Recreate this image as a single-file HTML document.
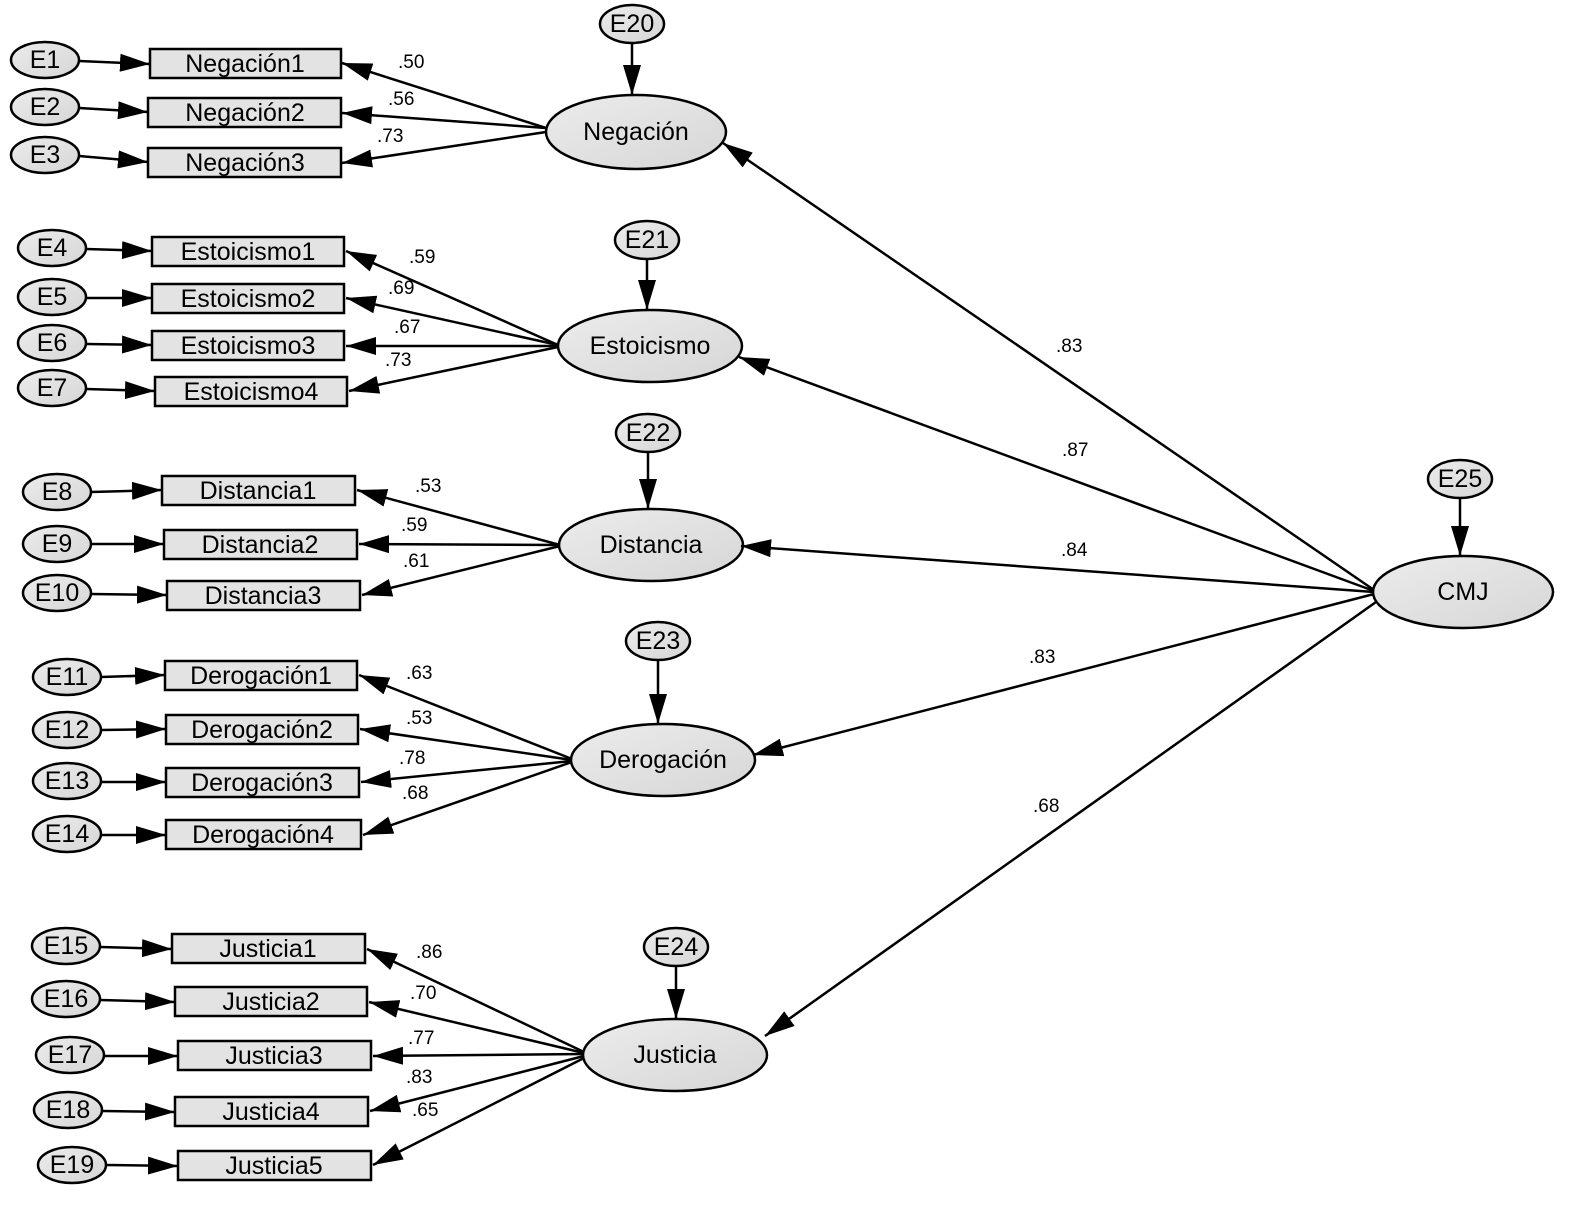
<!DOCTYPE html>
<html><head><meta charset="utf-8"><style>
body{margin:0;background:#fff}
svg{display:block}
text{font-family:"Liberation Sans Narrow","Liberation Sans",sans-serif;fill:#000}
.n{font-size:25px;text-anchor:middle;dominant-baseline:central}
.l{font-size:19px;font-family:"Liberation Sans",sans-serif}
ellipse,rect{stroke:#000;stroke-width:2.5}
ellipse{fill:url(#g)}
rect{fill:#e3e3e3}
line{stroke:#000;stroke-width:2.5;marker-end:url(#a)}
</style></head><body>
<svg width="1591" height="1229" viewBox="0 0 1591 1229" xmlns="http://www.w3.org/2000/svg">
<defs>
<linearGradient id="g" x1="0" y1="0" x2="1" y2="1"><stop offset="0" stop-color="#ececec"/><stop offset="1" stop-color="#d6d6d6"/></linearGradient>
<marker id="a" markerWidth="30" markerHeight="18" refX="30" refY="9" orient="auto" markerUnits="userSpaceOnUse"><path d="M0,0 L30,9 L0,18 z" fill="#000"/></marker>
</defs>

<!-- Negación -->
<ellipse cx="45" cy="60" rx="34" ry="18"/><text class="n" x="45" y="60">E1</text>
<ellipse cx="45" cy="107" rx="34" ry="18"/><text class="n" x="45" y="107">E2</text>
<ellipse cx="45" cy="155" rx="34" ry="18"/><text class="n" x="45" y="155">E3</text>
<line x1="79" y1="61" x2="150" y2="64"/><line x1="79" y1="108" x2="148" y2="112"/><line x1="79" y1="156" x2="148" y2="162"/>
<rect x="150" y="49" width="191" height="29"/><text class="n" x="245" y="64">Negación1</text>
<rect x="148" y="98" width="193" height="29"/><text class="n" x="245" y="113">Negación2</text>
<rect x="148" y="148" width="193" height="29"/><text class="n" x="245" y="163">Negación3</text>
<ellipse cx="636" cy="132" rx="90" ry="37"/><text class="n" x="636" y="132">Negación</text>
<ellipse cx="632" cy="24" rx="32" ry="19"/><text class="n" x="632" y="24">E20</text>
<line x1="632" y1="43" x2="632" y2="95"/>
<line x1="546" y1="128" x2="342" y2="63"/><line x1="546" y1="128" x2="342" y2="113"/><line x1="546" y1="132" x2="342" y2="163"/>
<text class="l" x="398" y="68">.50</text><text class="l" x="388" y="105">.56</text><text class="l" x="377" y="142">.73</text>

<!-- Estoicismo -->
<ellipse cx="52" cy="248" rx="34" ry="18"/><text class="n" x="52" y="248">E4</text>
<ellipse cx="52" cy="297" rx="34" ry="18"/><text class="n" x="52" y="297">E5</text>
<ellipse cx="52" cy="343" rx="34" ry="18"/><text class="n" x="52" y="343">E6</text>
<ellipse cx="52" cy="388" rx="34" ry="18"/><text class="n" x="52" y="388">E7</text>
<line x1="86" y1="249" x2="152" y2="251"/><line x1="86" y1="298" x2="152" y2="298"/><line x1="86" y1="344" x2="152" y2="345"/><line x1="86" y1="389" x2="155" y2="391"/>
<rect x="152" y="237" width="192" height="29"/><text class="n" x="248" y="252">Estoicismo1</text>
<rect x="152" y="284" width="192" height="29"/><text class="n" x="248" y="299">Estoicismo2</text>
<rect x="152" y="331" width="192" height="29"/><text class="n" x="248" y="346">Estoicismo3</text>
<rect x="155" y="377" width="192" height="29"/><text class="n" x="251" y="392">Estoicismo4</text>
<ellipse cx="650" cy="346" rx="92" ry="36"/><text class="n" x="650" y="346">Estoicismo</text>
<ellipse cx="647" cy="240" rx="32" ry="19"/><text class="n" x="647" y="240">E21</text>
<line x1="647" y1="259" x2="647" y2="310"/>
<line x1="558" y1="345" x2="346" y2="251"/><line x1="558" y1="345" x2="346" y2="298"/><line x1="558" y1="346" x2="346" y2="346"/><line x1="558" y1="347" x2="349" y2="391"/>
<text class="l" x="409" y="263">.59</text><text class="l" x="388" y="294">.69</text><text class="l" x="394" y="333">.67</text><text class="l" x="385" y="366">.73</text>

<!-- Distancia -->
<ellipse cx="57" cy="492" rx="34" ry="18"/><text class="n" x="57" y="492">E8</text>
<ellipse cx="57" cy="544" rx="34" ry="18"/><text class="n" x="57" y="544">E9</text>
<ellipse cx="57" cy="593" rx="34" ry="18"/><text class="n" x="57" y="593">E10</text>
<line x1="91" y1="492" x2="162" y2="490"/><line x1="91" y1="544" x2="164" y2="544"/><line x1="91" y1="594" x2="167" y2="595"/>
<rect x="162" y="476" width="193" height="29"/><text class="n" x="258" y="491">Distancia1</text>
<rect x="164" y="530" width="193" height="29"/><text class="n" x="260" y="545">Distancia2</text>
<rect x="167" y="581" width="193" height="29"/><text class="n" x="263" y="596">Distancia3</text>
<ellipse cx="651" cy="545" rx="92" ry="36"/><text class="n" x="651" y="545">Distancia</text>
<ellipse cx="648" cy="433" rx="32" ry="19"/><text class="n" x="648" y="433">E22</text>
<line x1="648" y1="452" x2="648" y2="509"/>
<line x1="560" y1="545" x2="357" y2="490"/><line x1="560" y1="545" x2="359" y2="544"/><line x1="560" y1="546" x2="362" y2="595"/>
<text class="l" x="415" y="492">.53</text><text class="l" x="401" y="531">.59</text><text class="l" x="403" y="567">.61</text>

<!-- Derogación -->
<ellipse cx="67" cy="677" rx="34" ry="18"/><text class="n" x="67" y="677">E11</text>
<ellipse cx="67" cy="730" rx="34" ry="18"/><text class="n" x="67" y="730">E12</text>
<ellipse cx="67" cy="781" rx="34" ry="18"/><text class="n" x="67" y="781">E13</text>
<ellipse cx="67" cy="834" rx="34" ry="18"/><text class="n" x="67" y="834">E14</text>
<line x1="101" y1="677" x2="165" y2="675"/><line x1="101" y1="730" x2="166" y2="729"/><line x1="101" y1="782" x2="166" y2="782"/><line x1="101" y1="835" x2="166" y2="835"/>
<rect x="165" y="661" width="192" height="29"/><text class="n" x="261" y="676">Derogación1</text>
<rect x="166" y="715" width="192" height="29"/><text class="n" x="262" y="730">Derogación2</text>
<rect x="166" y="768" width="193" height="29"/><text class="n" x="262" y="783">Derogación3</text>
<rect x="166" y="820" width="195" height="29"/><text class="n" x="263" y="835">Derogación4</text>
<ellipse cx="663" cy="760" rx="92" ry="36"/><text class="n" x="663" y="760">Derogación</text>
<ellipse cx="658" cy="641" rx="32" ry="19"/><text class="n" x="658" y="641">E23</text>
<line x1="658" y1="660" x2="658" y2="724"/>
<line x1="572" y1="759" x2="359" y2="675"/><line x1="572" y1="760" x2="360" y2="729"/><line x1="572" y1="761" x2="361" y2="782"/><line x1="572" y1="762" x2="363" y2="835"/>
<text class="l" x="406" y="679">.63</text><text class="l" x="406" y="724">.53</text><text class="l" x="399" y="764">.78</text><text class="l" x="402" y="799">.68</text>

<!-- Justicia -->
<ellipse cx="66" cy="946" rx="34" ry="18"/><text class="n" x="66" y="946">E15</text>
<ellipse cx="66" cy="999" rx="34" ry="18"/><text class="n" x="66" y="999">E16</text>
<ellipse cx="70" cy="1055" rx="34" ry="18"/><text class="n" x="70" y="1055">E17</text>
<ellipse cx="68" cy="1110" rx="34" ry="18"/><text class="n" x="68" y="1110">E18</text>
<ellipse cx="72" cy="1165" rx="34" ry="18"/><text class="n" x="72" y="1165">E19</text>
<line x1="100" y1="947" x2="172" y2="949"/><line x1="100" y1="1000" x2="175" y2="1002"/><line x1="104" y1="1056" x2="178" y2="1056"/><line x1="102" y1="1111" x2="175" y2="1112"/><line x1="106" y1="1165" x2="178" y2="1166"/>
<rect x="172" y="934" width="193" height="29"/><text class="n" x="268" y="949">Justicia1</text>
<rect x="175" y="987" width="192" height="29"/><text class="n" x="271" y="1002">Justicia2</text>
<rect x="178" y="1041" width="193" height="29"/><text class="n" x="274" y="1056">Justicia3</text>
<rect x="175" y="1097" width="193" height="29"/><text class="n" x="271" y="1112">Justicia4</text>
<rect x="178" y="1151" width="193" height="29"/><text class="n" x="274" y="1166">Justicia5</text>
<ellipse cx="675" cy="1055" rx="92" ry="36"/><text class="n" x="675" y="1055">Justicia</text>
<ellipse cx="676" cy="947" rx="32" ry="19"/><text class="n" x="676" y="947">E24</text>
<line x1="676" y1="966" x2="676" y2="1019"/>
<line x1="584" y1="1052" x2="367" y2="949"/><line x1="584" y1="1053" x2="369" y2="1002"/><line x1="584" y1="1054" x2="373" y2="1056"/><line x1="584" y1="1056" x2="370" y2="1111"/><line x1="584" y1="1058" x2="373" y2="1165"/>
<text class="l" x="416" y="958">.86</text><text class="l" x="410" y="999">.70</text><text class="l" x="408" y="1044">.77</text><text class="l" x="406" y="1083">.83</text><text class="l" x="412" y="1116">.65</text>

<!-- CMJ -->
<ellipse cx="1463" cy="592" rx="90" ry="36"/><text class="n" x="1463" y="592">CMJ</text>
<ellipse cx="1460" cy="479" rx="32" ry="19"/><text class="n" x="1460" y="479">E25</text>
<line x1="1460" y1="498" x2="1460" y2="556"/>
<line x1="1374" y1="590" x2="723" y2="143"/>
<line x1="1374" y1="591" x2="739" y2="357"/>
<line x1="1374" y1="592" x2="741" y2="546"/>
<line x1="1374" y1="594" x2="753" y2="755"/>
<line x1="1376" y1="602" x2="765" y2="1036"/>
<text class="l" x="1056" y="352">.83</text><text class="l" x="1062" y="456">.87</text><text class="l" x="1061" y="556">.84</text><text class="l" x="1029" y="663">.83</text><text class="l" x="1033" y="812">.68</text>
</svg>
</body></html>
